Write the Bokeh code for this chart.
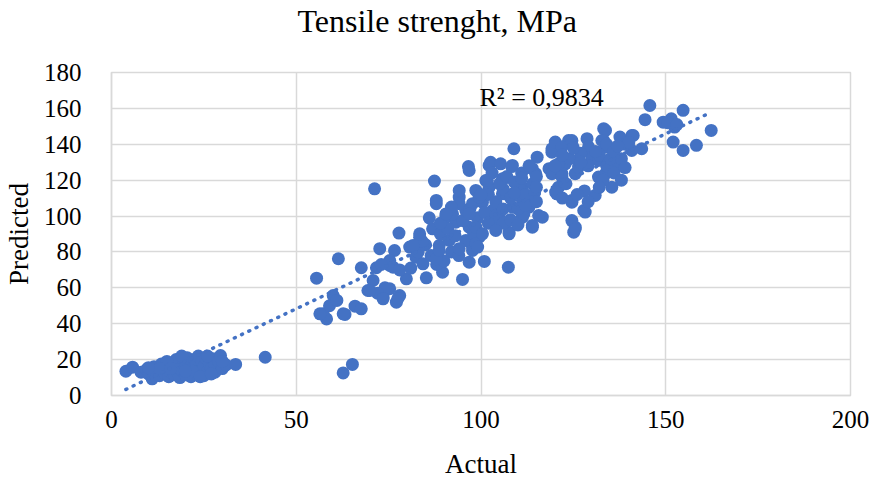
import numpy as np
from bokeh.plotting import figure
from bokeh.models import Label, Range1d, FixedTicker, Title
from bokeh.embed import file_html
from bokeh.resources import INLINE

title_text = "Tensile strenght, MPa"
x_label = "Actual"
y_label = "Predicted"
r2_text = "R² = 0,9834"
x_ticks = [0, 50, 100, 150, 200]
y_ticks = [0, 20, 40, 60, 80, 100, 120, 140, 160, 180]

# linear trendline as shown in the chart (slope, intercept)
trend_slope = 0.975
trend_intercept = -0.4

# low cluster
low_actual = [3.9, 5.7, 8, 9.5, 10, 11, 11.5, 12, 13, 13.5, 14, 14.5, 15, 15.5, 16, 16.5, 17, 17, 17.5, 18,
              18, 18.5, 19, 19.5, 20, 20, 20.5, 21, 21, 21.5, 22, 22.5, 23, 23, 23.5, 24, 24.5, 25, 25, 25.5,
              26, 26.5, 27, 27.5, 28, 28, 29, 29.5, 30, 31, 33.6, 41.6, 19, 15, 22, 24, 27, 13, 10, 16,
              20, 30, 26]
low_pred = [13.5, 15.8, 13, 14.5, 12, 9.3, 16, 13.5, 11, 17.5, 14, 12, 16, 10.5, 13, 18, 11.5, 15, 20, 12.5,
            17, 10, 14, 19, 11.5, 16, 21, 13, 18, 10.5, 15, 20, 12, 17, 22, 14, 19, 11, 16, 21,
            13.5, 18, 15, 20.5, 13, 17, 19, 22.3, 15, 17, 17.3, 21.3, 22, 19, 13.5, 10.5, 12, 15, 15.5, 15,
            13.5, 19, 22]

# 55-80
mid_actual = [62.7, 65.2, 55.5, 61.4, 71.2, 57.3, 58.2, 60, 59, 61, 63.2, 65.9, 67.6, 69.4, 70.8, 73.5, 75.3,
              77.1, 78, 77.5, 75.3, 76.6, 71.7, 67.6, 72.6, 77.8, 79.8, 74, 72, 56.4, 62.7, 69.9, 75.3, 76.2,
              73, 78, 73.5]
mid_pred = [12.6, 17.3, 65.4, 76.2, 115.2, 45.5, 42.7, 55.7, 50, 53, 45.2, 49.8, 48.3, 58.5, 64.1, 54.8, 59.5,
            52, 55.7, 54, 72.5, 80.8, 71.2, 71.2, 81.8, 90.5, 65, 60, 57, 45.5, 45.5, 58.5, 75.2, 71.5,
            73, 70, 53.9]

# 80-100
c_actual = [80.7, 82.4, 84.3, 83.4, 86.9, 88.7, 91.4, 86.5, 85.2, 89.6, 95, 87.9, 87.9, 94.1, 95.9, 90.5, 93.2,
            96.8, 99.5, 97.7, 96.8, 95, 95.9, 97.7, 94.1, 92.3, 94.1, 87.4, 96.6, 89, 91, 92, 93, 85, 81, 83,
            88, 90, 94, 98, 99, 97, 89, 92, 86, 84, 83.4, 87.9, 88.7, 81.6, 94.1, 98.6, 97.7, 98.6, 98.6,
            96.8, 96.8, 90.5]
c_pred = [82.7, 77.1, 73.4, 88.2, 92.9, 83.6, 86.4, 78, 65.6, 68.7, 64.7, 108.7, 106.9, 110.5, 103.1, 99.4, 96.6,
          93.8, 88.2, 82.7, 74.3, 97.5, 86.4, 80.8, 106.9, 101.2, 114.3, 119.5, 127.6, 90, 93, 80, 89, 84, 71, 80,
          73, 75, 78, 90, 99, 104, 96, 105, 99, 86, 90.1, 76.2, 80.8, 83.6, 81.8, 114.3, 106.9, 93.8, 84.5,
          125.4, 101.2, 101.2]

# 100-120
d_actual = [100.9, 107.4, 102.2, 102.2, 108.5, 105.8, 100.4, 104.9, 107.6, 111.2, 111.2, 113, 108.9, 102.6,
            105.3, 108.3, 115.2, 113.9, 119.2, 118.4, 114.8, 116.6, 113.9, 111.6, 107.6, 103.1, 99.5,
            101.3, 105.8, 110.3, 111.2, 101.7, 106.2, 113.9, 103.1, 108.5, 115.6, 113.9, 100.4, 99.1,
            119.2, 119.2, 102, 104, 106, 108, 110, 112, 114, 114.5, 103, 105, 107, 109, 111, 113, 115, 115,
            101, 104, 106, 108, 110, 112, 115, 100, 102, 104, 106, 109, 111]
d_pred = [74.7, 71.5, 116.1, 128.2, 128.2, 120.8, 107.7, 99.4, 91, 99.4, 116.1, 105, 137.5, 130,
          129.1, 127.6, 132.8, 126.4, 137.5, 126.4, 123.6, 99.4, 93.8, 101.2, 90.1, 97.5, 110.5,
          119.8, 112.4, 116.1, 108.7, 119.8, 120.8, 109.6, 103.1, 104.9, 100.3, 94.8, 90.1, 82.7,
          123.6, 135.6, 112, 108, 115, 110, 104, 112, 118, 113, 124, 118, 122, 119, 124, 128, 122, 116,
          102, 100, 96, 98, 95, 106, 108, 112, 96, 92, 104, 113, 121]

# 120-145
e_actual = [120.1, 123.7, 128.7, 133.2, 133.2, 137.6, 140.8, 143.5, 122.8, 125.5, 124.6, 125.5, 125.1, 127.8,
            130.9, 135.4, 137.2, 131.8, 130, 126.4, 121.9, 121, 124.6, 125.5, 128.2, 124.6, 133.7, 120.5,
            120.2, 121.9, 121, 126.4, 131.8, 137.2, 140.8, 129.1, 133.7, 121.9, 133.7, 141.2, 124.6, 132.7,
            123, 129, 132, 134, 135, 127, 124, 133, 136, 138, 139, 122, 125, 128, 122, 120, 127, 131, 134,
            136, 140, 137, 126, 129, 132, 138, 139]
e_pred = [141.2, 142.1, 143.1, 148.7, 142.1, 144, 144.9, 137.5, 129.1, 123.6, 108.7, 93.8, 91, 103.1,
          111.5, 116.1, 128.2, 121.7, 132.8, 127.3, 123.6, 116.1, 97.5, 92.9, 102.2, 107.7, 123.6, 112.4,
          113.3, 121.7, 129.1, 131, 131, 129.1, 136.6, 138.5, 138.5, 138.5, 147.7, 144.9, 142.1, 142.1,
          118, 128, 134, 128, 132, 135, 132, 120, 124, 132, 140, 134, 138, 114, 110, 128, 130, 136, 140,
          136, 141, 139, 112, 108, 116, 120, 127]

# above 143
f_actual = [145.7, 144.4, 149.3, 151.5, 154.7, 152.4, 162.3, 152, 154.7, 158.3, 150.5, 153]
f_pred = [161.6, 153.7, 152.3, 154.2, 158.9, 149.6, 147.7, 141.2, 136.6, 139.4, 152, 151]

actual = low_actual + mid_actual + c_actual + d_actual + e_actual + f_actual
predicted = low_pred + mid_pred + c_pred + d_pred + e_pred + f_pred

FONT = "Liberation Serif"
GRID = "#d9d9d9"
BLUE = "#4472C4"

p = figure(width=877, height=481, x_range=Range1d(0, 200), y_range=Range1d(0, 180),
           output_backend="svg", toolbar_location=None,
           min_border_left=107, min_border_right=27, min_border_top=72, min_border_bottom=86)
p.background_fill_color = "white"
p.border_fill_color = "white"
p.outline_line_color = GRID
p.outline_line_width = 1.5

# built-in title left empty; a thin spacer title sits next to the frame and the real title above it
p.title.text = ""
p.add_layout(Title(text=" ", text_font_size="1px", standoff=31), "above")
p.add_layout(Title(text=title_text, align="left", offset=186, vertical_align="bottom",
                   text_font=FONT, text_font_size="32px", text_font_style="normal",
                   text_color="#000000", standoff=0), "above")

for ax, ticks in ((p.xaxis, x_ticks), (p.yaxis, y_ticks)):
    ax.ticker = FixedTicker(ticks=ticks)
    ax.major_tick_line_color = None
    ax.minor_tick_line_color = None
    ax.axis_line_color = GRID
    ax.axis_line_width = 1.5
    ax.major_label_text_font = FONT
    ax.major_label_text_font_size = "25px"
    ax.major_label_text_color = "#000000"
    ax.axis_label_text_font = FONT
    ax.axis_label_text_font_size = "27px"
    ax.axis_label_text_font_style = "normal"
    ax.axis_label_text_color = "#000000"

p.xaxis.axis_label = x_label
p.yaxis.axis_label = y_label
p.xaxis.major_label_standoff = 9
p.xaxis.axis_label_standoff = 18
p.yaxis.major_label_standoff = 24
p.yaxis.axis_label_standoff = 7

p.xgrid.ticker = FixedTicker(ticks=x_ticks)
p.ygrid.ticker = FixedTicker(ticks=y_ticks)
p.grid.grid_line_color = GRID
p.grid.grid_line_width = 1.5

p.scatter(actual, predicted, size=13, fill_color=BLUE, line_color=None)

tx = np.array([min(actual), max(actual)])
p.line(tx, trend_slope * tx + trend_intercept, line_color=BLUE, line_width=3.5,
       line_dash="1 7", line_cap="round")

p.add_layout(Label(x=99.6, y=166.0, text=r2_text, text_font=FONT, text_font_size="26px",
                   text_color="#000000", text_baseline="middle"))

open("out.html", "w").write(file_html(p, INLINE))
